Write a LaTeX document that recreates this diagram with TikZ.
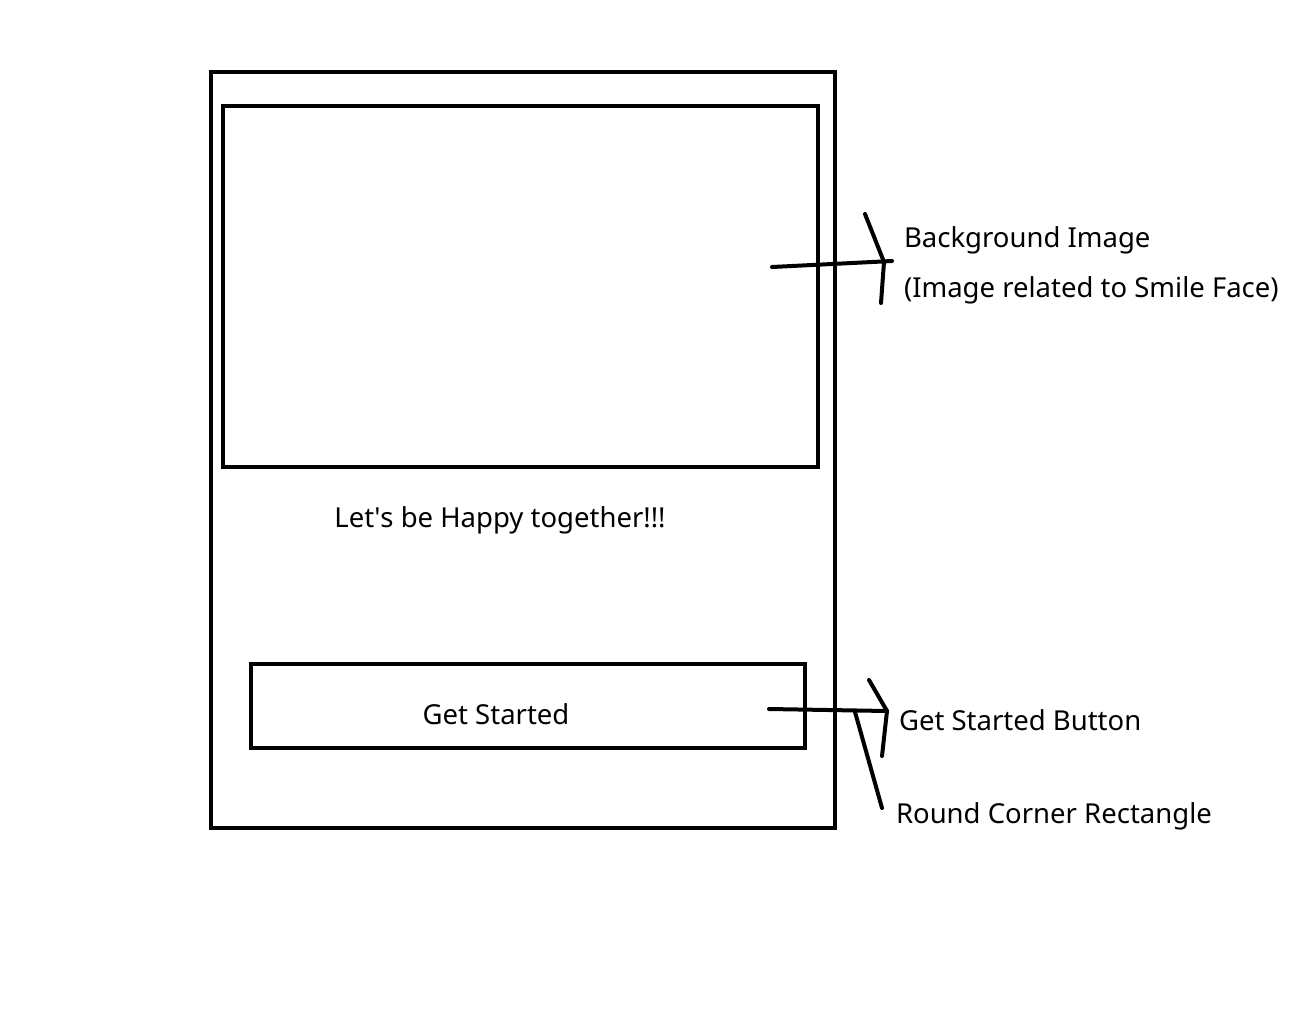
\documentclass[tikz,border=0pt]{standalone}
\usepackage{fontspec}
\setmainfont{Noto Sans}
\usepackage{tikz}

\begin{document}
\begin{tikzpicture}[x=1pt,y=-1pt,line width=4pt,
                    box/.style={draw,line width=4pt,outer sep=0pt,anchor=north west},
                    note/.style={anchor=west,inner sep=0pt,font=\fontsize{27.5}{32}\selectfont},
                    caption/.style={inner sep=0pt,font=\fontsize{27.5}{32}\selectfont},
                    pen/.style={line width=4pt,line cap=round,line join=round}]
  \useasboundingbox (0,0) rectangle (1298,1018);

  \node[box,minimum width=624pt,minimum height=756pt] (screen) at (211,72) {};
  \node[box,minimum width=595pt,minimum height=361pt] (image) at (223,106) {};
  \node[box,minimum width=554pt,minimum height=84pt] (button) at (251,664) {};

  \node[caption] (slogan) at (500,520) {Let\textquotesingle s be Happy together!!!};
  \node[caption] (btntext) at (496,714) {Get Started};

  \node[note] (bg) at (902,240) {Background Image};
  \node[note] (bgsub) at (902,290) {(Image related to Smile Face)};
  \node[note] (gsb) at (897,720) {Get Started Button};
  \node[note] (rcr) at (894,816) {Round Corner Rectangle};

  % hand drawn pointers
  \coordinate (a1) at (772,267);
  \coordinate (a1tip) at (892,261);
  \coordinate (a1hook) at (884,262);
  \coordinate (a2) at (769,709);
  \coordinate (a2tip) at (887,711);
  \coordinate (a2fork) at (855,712);

  \draw[pen] (a1) -- (a1tip);
  \draw[pen] (865,214) -- (a1hook) -- (881,303);
  \draw[pen] (a2) -- (a2tip);
  \draw[pen] (869,680) -- (a2tip) -- (882,756);
  \draw[pen] (a2fork) -- (882,808);
\end{tikzpicture}
\end{document}
